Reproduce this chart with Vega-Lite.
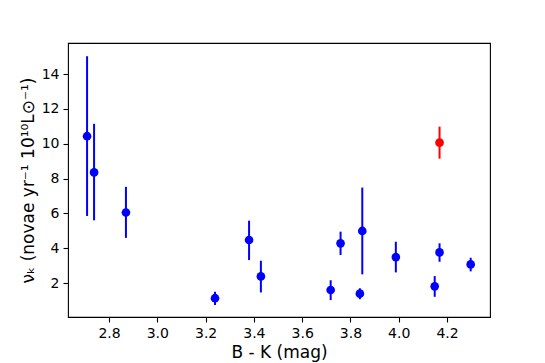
{
  "$schema": "https://vega.github.io/schema/vega-lite/v6.json",
  "autosize": "none",
  "width": 422,
  "height": 274,
  "padding": {"left": 68, "top": 43, "right": 55, "bottom": 46},
  "background": "white",
  "config": {
    "font": "DejaVu Sans",
    "view": {"stroke": "black", "strokeWidth": 1.1},
    "axis": {
      "grid": false,
      "domain": false,
      "tickColor": "black",
      "tickSize": 5,
      "tickWidth": 1.1,
      "labelFont": "DejaVu Sans",
      "labelFontSize": 14,
      "labelColor": "black",
      "labelPadding": 4,
      "titleFont": "DejaVu Sans",
      "titleFontSize": 17,
      "titleFontWeight": "normal",
      "titleColor": "black"
    }
  },
  "data": {
    "values": [
      {"bk": 2.709, "nu": 10.43, "lo": 5.85, "hi": 15.02, "group": "sample"},
      {"bk": 2.738, "nu": 8.35, "lo": 5.6, "hi": 11.14, "group": "sample"},
      {"bk": 2.870, "nu": 6.05, "lo": 4.59, "hi": 7.52, "group": "sample"},
      {"bk": 3.239, "nu": 1.13, "lo": 0.74, "hi": 1.5, "group": "sample"},
      {"bk": 3.380, "nu": 4.47, "lo": 3.32, "hi": 5.58, "group": "sample"},
      {"bk": 3.429, "nu": 2.38, "lo": 1.46, "hi": 3.28, "group": "sample"},
      {"bk": 3.718, "nu": 1.6, "lo": 1.02, "hi": 2.16, "group": "sample"},
      {"bk": 3.759, "nu": 4.28, "lo": 3.61, "hi": 4.95, "group": "sample"},
      {"bk": 3.839, "nu": 1.39, "lo": 1.07, "hi": 1.7, "group": "sample"},
      {"bk": 3.849, "nu": 4.99, "lo": 2.5, "hi": 7.48, "group": "sample"},
      {"bk": 3.988, "nu": 3.49, "lo": 2.61, "hi": 4.37, "group": "sample"},
      {"bk": 4.149, "nu": 1.81, "lo": 1.21, "hi": 2.4, "group": "sample"},
      {"bk": 4.169, "nu": 3.76, "lo": 3.22, "hi": 4.28, "group": "sample"},
      {"bk": 4.169, "nu": 10.06, "lo": 9.14, "hi": 10.98, "group": "highlight"},
      {"bk": 4.298, "nu": 3.07, "lo": 2.67, "hi": 3.45, "group": "sample"}
    ]
  },
  "encoding": {
    "x": {
      "field": "bk",
      "type": "quantitative",
      "scale": {"domain": [2.63, 4.378], "nice": false, "zero": false},
      "axis": {"title": "B - K (mag)", "values": [2.8, 3.0, 3.2, 3.4, 3.6, 3.8, 4.0, 4.2], "format": ".1f", "titlePadding": 4}
    },
    "color": {
      "field": "group",
      "type": "nominal",
      "scale": {"domain": ["sample", "highlight"], "range": ["#0000ff", "#ff0000"]},
      "legend": null
    }
  },
  "layer": [
    {
      "mark": {"type": "rule", "strokeWidth": 2},
      "encoding": {
        "y": {
          "field": "lo",
          "type": "quantitative",
          "scale": {"domain": [0.05, 15.78], "nice": false, "zero": false},
          "axis": {"title": "νₖ (novae yr⁻¹ 10¹⁰L⊙⁻¹)", "values": [2, 4, 6, 8, 10, 12, 14], "titlePadding": 4}
        },
        "y2": {"field": "hi"}
      }
    },
    {
      "mark": {"type": "point", "shape": "circle", "filled": true, "opacity": 1, "size": 75},
      "encoding": {
        "y": {"field": "nu", "type": "quantitative"}
      }
    }
  ]
}
